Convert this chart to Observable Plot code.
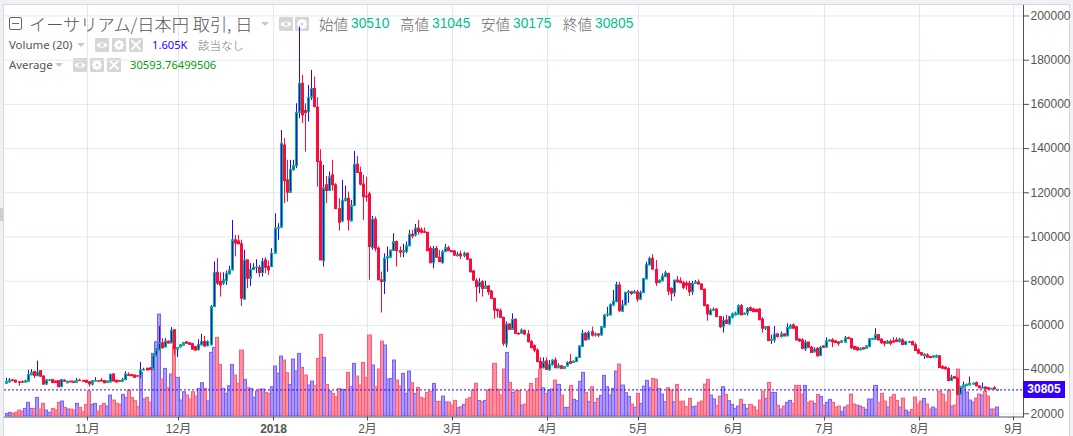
<!DOCTYPE html>
<html lang="ja"><head><meta charset="utf-8">
<script src="https://cdn.jsdelivr.net/npm/d3@7"></script>
<script src="https://cdn.jsdelivr.net/npm/@observablehq/plot@0.6"></script>
<style>
html,body{margin:0;padding:0;width:1073px;height:436px;overflow:hidden;background:#eff1f5;font-family:"Liberation Sans",Arial,sans-serif}
#panel{position:absolute;left:3px;top:4px;width:1067px;height:440px;background:#fff;border:1px solid #d4d8e0;box-sizing:border-box}
#chart{position:absolute;left:0;top:0}
.t{position:absolute;white-space:nowrap}
.box{position:absolute;background:#d6d6d6;border-radius:1px}
.box svg{display:block}
.tri{position:absolute;width:0;height:0;border-left:4px solid transparent;border-right:4px solid transparent;border-top:4px solid #c8c8c8}
</style></head><body>
<div id="panel"></div>
<div id="under"></div>
<div id="chart"></div>
<div id="legend"></div>
<script>
// Daily candles open at midnight Japan time (15:00 UTC of the day before).
const startDate = "2017-10-05T15:00:00Z";
const opens = [
33.6,34.2,35.1,35.0,34.2,34.3,34.1,34.4,37.4,38.9,
37.0,39.3,36.9,33.3,34.9,35.3,34.6,34.8,32.0,35.0,
33.8,34.5,34.5,34.0,35.0,34.9,34.9,34.3,33.2,34.6,
34.7,34.9,34.8,33.9,34.2,37.8,35.0,34.8,34.5,35.2,
37.5,37.5,37.3,37.0,36.8,39.6,40.4,40.5,40.0,46.0,
48.6,51.9,50.0,52.6,51.8,57.8,49.0,50.0,50.8,52.3,
51.9,51.5,50.2,48.8,51.0,52.5,50.5,51.0,68.3,83.8,
79.6,78.9,80.0,83.0,84.9,98.5,98.0,96.7,71.6,89.4,
81.0,85.0,86.0,86.0,83.7,89.4,86.4,86.4,92.4,103.8,
104.2,141.4,125.6,120.0,130.2,132.0,156.2,169.3,157.0,156.5,
163.0,167.0,158.5,133.9,89.0,123.4,120.8,127.9,123.4,112.6,
107.0,116.3,117.3,107.0,114.0,132.7,129.0,123.7,118.3,119.3,
95.0,107.8,94.7,80.4,79.6,90.2,90.6,93.6,97.7,93.6,
92.9,93.2,95.8,101.0,100.7,103.8,103.0,102.2,101.9,94.6,
88.1,94.6,90.6,88.1,93.1,94.9,93.6,93.4,91.3,92.1,
91.3,92.4,89.7,84.4,80.0,77.3,79.5,76.5,77.6,75.3,
72.0,67.0,66.4,63.4,51.3,60.4,58.0,62.5,56.2,56.2,
57.4,55.9,52.4,50.6,48.6,43.4,40.6,43.7,39.6,42.0,
44.1,40.6,41.5,40.4,41.4,43.4,43.0,43.4,45.2,50.2,
56.2,53.5,56.9,55.4,55.9,55.4,58.9,64.5,64.5,69.0,
70.5,78.0,66.1,69.0,74.6,75.0,74.4,74.9,71.6,74.6,
80.8,87.1,90.1,85.1,79.1,79.9,81.8,83.3,76.5,74.6,
80.3,79.9,79.1,78.8,78.8,75.0,78.8,79.4,78.5,76.1,
69.0,64.6,66.6,67.2,63.8,59.2,62.2,60.4,63.5,64.5,
64.8,68.7,64.8,65.3,67.8,67.2,67.0,67.2,62.6,58.5,
59.2,52.9,53.2,55.9,54.7,55.9,55.0,58.5,60.0,59.2,
53.5,53.2,49.1,52.2,49.9,47.8,49.4,46.1,50.5,49.9,
52.7,53.2,52.8,52.3,52.0,52.2,54.2,53.8,50.2,49.9,
48.7,49.7,49.4,50.2,53.5,53.5,55.6,53.5,52.5,51.7,
52.5,52.8,53.2,52.5,53.2,51.1,52.1,52.5,51.0,48.7,
47.5,46.1,46.4,45.7,45.4,45.4,46.0,41.1,40.9,40.2,
34.8,36.6,35.9,28.6,32.0,32.5,32.8,33.2,33.9,32.4,
31.4,31.9,31.6,31.0,31.5,30.51];
const closes = [
34.4,35.1,34.9,34.1,34.0,34.1,34.7,37.6,38.4,37.1,
38.6,36.8,33.2,35.1,35.0,33.9,33.9,32.0,35.3,34.5,
34.5,34.2,34.0,35.0,34.8,34.5,34.0,33.3,34.8,34.8,
34.5,34.6,33.8,34.6,37.6,34.6,34.2,34.5,35.2,37.8,
37.2,37.0,36.3,36.8,39.7,39.9,39.6,39.8,46.4,48.8,
51.8,49.6,52.7,51.8,57.6,49.3,49.8,51.0,52.0,51.7,
51.2,49.0,48.6,51.2,52.5,50.5,52.5,68.3,83.8,78.9,
78.0,80.4,83.4,84.9,98.5,97.0,96.7,72.1,89.4,81.1,
85.2,86.1,86.2,83.7,88.7,86.1,84.9,92.4,103.8,104.2,
142.2,125.3,120.0,130.4,132.1,156.2,169.3,155.0,156.1,163.0,
167.0,158.8,133.9,89.4,122.0,120.8,127.0,123.4,112.6,106.5,
116.3,117.3,107.5,114.0,132.7,129.0,123.7,118.0,118.0,95.5,
107.8,94.7,80.4,79.6,90.2,90.9,93.9,97.7,93.6,92.9,
93.6,95.9,101.0,100.3,103.8,102.2,101.9,101.9,93.6,88.1,
94.6,90.6,88.6,93.1,94.9,93.6,93.1,91.6,91.9,91.2,
92.4,89.7,84.1,80.3,77.3,79.3,76.5,77.6,75.0,72.0,
66.7,66.4,63.4,51.7,60.4,58.0,62.5,56.2,55.9,57.7,
55.9,52.4,49.7,48.6,43.4,40.6,43.4,39.9,42.3,44.1,
40.6,41.5,40.3,41.1,43.0,42.6,43.6,45.3,50.5,56.2,
53.2,56.6,55.4,55.9,55.4,59.2,64.5,64.9,69.3,70.8,
78.3,66.4,69.1,74.7,75.0,74.3,75.0,71.7,74.7,81.0,
87.4,90.1,85.3,79.1,80.2,82.1,83.6,75.3,74.3,80.3,
79.5,79.1,77.0,78.0,75.0,78.8,79.4,78.5,76.1,68.7,
65.0,66.7,67.0,63.8,59.2,62.0,60.7,63.8,65.0,65.3,
68.7,64.5,65.3,67.5,66.5,66.0,66.0,62.3,58.5,59.2,
52.9,53.6,55.9,54.7,55.9,55.0,58.9,59.7,58.5,53.2,
52.8,49.4,52.2,49.9,47.5,49.0,46.0,49.9,49.9,52.8,
53.2,52.3,52.0,51.7,52.8,54.2,53.8,49.7,49.0,48.7,
49.4,49.1,50.5,53.7,53.9,55.6,53.2,52.0,51.7,52.5,
51.7,52.2,52.5,53.5,51.1,52.5,52.3,51.0,48.4,47.2,
46.4,46.7,45.4,45.2,46.0,46.0,40.7,40.4,40.1,34.8,
36.3,35.9,28.6,32.1,32.8,33.1,33.6,33.6,32.4,31.5,
31.8,31.2,31.0,31.3,31.0,30.805];
const highs = [
36.0,36.0,35.6,35.2,34.6,34.9,35.2,39.6,40.0,39.2,
43.8,39.6,37.0,35.6,35.5,35.5,34.8,35.0,35.5,35.4,
34.8,34.8,34.7,36.0,35.7,35.1,35.3,34.5,35.0,36.3,
35.0,36.0,35.0,34.9,38.0,38.1,35.2,35.0,36.0,39.0,
38.6,37.8,37.5,37.2,43.2,40.6,40.6,40.9,46.7,49.5,
59.5,54.0,54.0,53.0,59.0,58.0,50.0,51.4,52.3,52.6,
52.2,51.7,50.4,53.5,56.0,55.0,53.0,69.0,88.7,90.2,
83.8,83.8,84.6,86.7,107.5,100.7,100.7,98.5,94.0,89.5,
87.9,87.9,89.7,87.2,90.2,90.6,89.1,94.7,110.5,106.0,
148.2,144.5,134.7,134.7,134.7,160.3,195.0,173.1,160.3,168.6,
175.4,172.4,163.0,139.5,132.4,127.4,129.4,134.7,124.1,117.3,
125.6,123.0,120.3,116.6,138.7,136.5,131.6,127.9,127.1,120.3,
109.3,109.0,95.5,84.1,92.4,95.5,93.9,101.5,98.2,95.5,
96.7,97.7,103.0,103.0,105.7,107.5,104.1,104.1,102.0,95.7,
95.7,95.7,93.9,93.9,96.6,95.8,93.9,93.9,93.1,93.6,
93.1,92.8,90.1,84.8,81.1,81.1,80.3,80.0,78.0,75.8,
72.3,67.5,67.5,63.7,61.5,60.7,65.2,63.0,56.6,58.4,
58.0,57.7,53.2,51.2,49.4,45.3,45.3,45.3,44.1,44.4,
45.3,42.6,41.7,41.4,43.5,46.8,43.9,45.6,50.8,57.7,
56.9,57.4,59.2,56.5,56.2,59.5,64.8,68.2,69.7,75.8,
79.5,79.5,71.3,75.0,75.8,75.2,75.8,75.8,75.5,81.2,
88.6,90.9,92.0,89.4,80.6,83.3,84.5,83.6,77.0,80.3,
82.1,81.5,79.9,79.9,79.9,79.9,80.3,80.6,78.7,76.5,
69.4,67.5,67.9,67.5,64.0,63.8,64.5,64.1,65.6,66.0,
69.3,69.5,65.6,68.0,68.3,67.8,67.3,67.5,63.5,59.5,
59.5,55.5,59.5,56.2,57.0,56.2,60.7,60.4,60.7,59.5,
54.0,54.0,53.2,52.4,50.5,49.9,49.9,50.5,50.7,54.4,
53.5,54.0,53.0,52.5,53.0,55.0,54.7,54.0,50.6,50.1,
49.8,50.0,50.9,54.1,54.1,58.5,55.8,54.0,52.7,53.2,
53.5,54.4,54.4,54.1,54.0,52.8,52.8,52.8,52.0,49.4,
47.8,47.2,47.2,45.9,46.2,46.6,46.4,41.8,41.1,40.8,
37.4,36.9,36.1,32.4,34.4,33.5,36.6,33.9,34.4,32.6,
33.9,32.1,31.8,31.5,32.4,31.045];
const lows = [
33.4,33.8,34.4,34.0,32.5,33.8,33.9,34.2,37.2,35.9,
36.8,36.4,33.1,32.8,34.6,33.7,33.7,31.9,31.9,34.3,
33.6,34.0,33.9,33.9,34.6,34.3,33.9,32.1,32.6,34.4,
34.4,34.4,33.6,33.7,34.0,34.4,33.8,34.3,34.3,35.0,
37.0,36.8,36.0,36.6,35.9,39.4,39.4,39.6,39.5,45.8,
48.4,49.4,49.8,51.6,51.6,46.5,45.5,49.8,50.6,51.5,
51.0,48.8,48.4,48.4,50.6,50.0,50.3,50.7,68.2,78.1,
72.8,78.1,78.1,83.0,84.6,91.0,96.6,68.6,71.5,76.6,
77.7,84.9,83.4,81.6,81.9,83.4,82.6,86.1,92.4,98.5,
103.8,115.1,115.8,120.0,129.8,130.9,153.5,151.3,138.4,152.0,
161.8,158.5,122.6,89.4,86.4,115.1,120.8,120.8,112.6,102.7,
106.5,115.8,102.7,106.8,114.0,129.0,123.1,107.5,115.8,80.4,
94.0,93.2,80.4,65.6,74.0,84.1,90.2,93.9,86.4,90.6,
90.6,92.4,95.5,99.2,100.0,100.8,101.4,101.7,93.6,88.1,
85.6,90.6,88.6,87.8,93.1,93.6,93.1,91.2,91.0,89.8,
90.6,89.7,83.6,80.0,70.5,74.3,72.8,76.5,73.5,72.0,
62.7,63.4,63.4,50.5,49.8,57.7,57.7,56.2,55.5,55.9,
55.4,52.0,49.4,47.6,43.1,40.0,40.3,39.6,39.3,41.6,
40.6,40.4,40.2,40.2,41.2,42.4,42.8,43.2,45.0,50.0,
52.9,53.2,54.7,54.7,54.4,55.2,58.7,63.7,64.2,68.5,
70.2,66.0,66.0,69.4,70.0,73.5,74.2,70.5,71.4,74.4,
80.6,86.9,84.8,77.6,78.9,79.7,81.6,73.5,70.8,72.8,
79.1,78.9,76.1,75.8,73.1,73.5,78.6,78.3,75.9,68.5,
61.9,64.4,66.4,63.5,58.5,56.5,60.4,60.1,62.9,64.2,
64.6,64.5,64.6,64.2,66.2,65.8,65.8,62.3,56.5,57.7,
52.7,51.4,52.0,54.4,54.3,54.8,55.0,58.3,58.3,52.9,
52.3,49.0,48.2,49.7,47.5,47.5,45.7,46.0,49.7,49.7,
52.5,49.9,51.8,50.5,51.8,52.0,53.6,49.1,48.8,48.2,
48.5,48.9,49.2,49.9,53.3,53.3,53.0,51.4,50.2,51.5,
50.8,52.0,52.3,52.0,51.0,50.9,51.9,50.8,48.2,47.0,
46.2,44.6,45.2,45.0,45.2,45.2,40.5,40.2,39.9,34.6,
34.6,35.7,28.4,28.4,31.8,32.3,32.6,33.0,32.2,31.3,
31.2,29.8,30.8,30.8,30.8,30.175];
// Volume read as bar height in steps of one unit (61.7 ETH); the last bar is 1.605K.
const volumeSteps = [
7,10,7,10,17,14,22,40,22,22,
55,20,37,17,10,22,17,40,44,25,
20,20,17,37,25,12,34,74,34,37,
14,30,37,29,62,47,37,34,64,55,
77,55,45,27,130,50,55,40,187,222,
305,110,142,84,125,212,115,47,72,62,
50,72,59,82,99,82,44,190,205,235,
154,82,67,90,154,122,97,197,109,84,
82,55,74,80,80,70,67,87,149,127,
179,167,129,94,170,134,187,145,122,92,
104,90,172,244,175,94,74,67,57,82,
79,79,130,87,157,119,92,160,115,242,
152,87,140,224,212,110,112,167,107,89,
127,67,134,99,67,85,55,52,70,74,
97,43,43,59,41,41,32,46,24,27,
34,50,54,77,97,46,42,46,77,80,
157,80,62,140,190,100,70,75,76,32,
35,74,97,75,112,140,84,67,77,80,
107,94,62,25,25,91,49,45,103,130,
70,43,87,40,52,61,121,87,62,82,
134,155,92,69,58,35,25,67,37,89,
106,84,112,109,82,65,42,84,77,42,
94,42,44,27,52,27,29,40,44,95,
109,62,50,30,59,87,64,45,34,22,
29,49,34,22,34,27,17,47,74,52,
100,70,70,31,20,29,40,46,37,91,
91,64,91,40,44,37,64,58,32,40,
49,40,26,29,12,26,32,65,35,32,
29,25,19,50,50,91,39,67,44,26,
56,64,46,26,53,17,11,19,56,35,
44,52,35,20,26,20,74,65,41,77,
29,32,140,87,89,71,47,41,53,65,
62,74,59,20,20,26];
const priceTicks = [20000,40000,60000,80000,100000,120000,140000,160000,180000,200000];
const monthTicks = ["2017-11-01","2017-12-01","2018-01-01","2018-02-01","2018-03-01","2018-04-01","2018-05-01","2018-06-01","2018-07-01","2018-08-01","2018-09-01"];
const monthLabels = ["11月","12月","2018","2月","3月","4月","5月","6月","7月","8月","9月"];
const lastClose = 30805;

const BLUE="#3300ff",TEAL="#00b88c",RED="#ff0a3c",GRID="#deeaf2",AXIS="#4c525e",LABEL="#555";
const volumeBase=18900, volumePriceUnit=150.8;
const t0=new Date(startDate);
const DAY=864e5;
if(![opens,closes,highs,lows,volumeSteps].every(a=>a.length===326)) throw new Error("len "+[opens,closes,highs,lows,volumeSteps].map(a=>a.length));
const rows=opens.map((o,i)=>({date:new Date(+t0+i*DAY),i,open:o*1000,close:closes[i]*1000,high:highs[i]*1000,low:lows[i]*1000,up:closes[i]>=o,vol:volumeSteps[i]}));
const tickDates=monthTicks.map(s=>new Date(s+"T00:00:00Z"));
const plainIdx=monthLabels.map((l,i)=>i).filter(i=>monthLabels[i]!=="2018");
const boldIdx=monthLabels.map((l,i)=>i).filter(i=>monthLabels[i]==="2018");
const nov1=tickDates[0];
const pxPerDay=3.048;
const xDomain=[new Date(+nov1+((4-86.7)/pxPerDay)*DAY),new Date(+nov1+((1023-86.7)/pxPerDay)*DAY)];
const labelOf=d=>monthLabels[tickDates.findIndex(t=>+t===+d)];
const font='"Liberation Sans","Noto Sans CJK JP",sans-serif';

const plot=Plot.plot({
  width:1073,height:436,
  marginLeft:4,marginRight:50,marginTop:5,marginBottom:19.5,
  style:{background:"transparent",fontFamily:font},
  x:{type:"utc",domain:xDomain,range:[4,1023],round:true},
  y:{type:"linear",domain:[18550,204750],range:[416.5,5]},
  marks:[
    Plot.gridY(priceTicks,{stroke:GRID,strokeOpacity:1,strokeWidth:1}),
    Plot.gridX(tickDates,{stroke:GRID,strokeOpacity:1,strokeWidth:1}),
    Plot.rect(rows,{
      x1:d=>new Date(+d.date-DAY/2),x2:d=>new Date(+d.date+DAY/2),
      y1:()=>volumeBase,y2:d=>volumeBase+d.vol*volumePriceUnit,
      fill:d=>d.up?"rgba(70,30,255,.45)":"rgba(255,20,50,.47)",
      stroke:d=>d.up?"#7a5cff":"#ff5a76",strokeWidth:1,dx:.5
    }),
    Plot.ruleY([lastClose],{stroke:BLUE,strokeDasharray:"2,2",strokeWidth:1}),
    Plot.ruleX(rows,{x:"date",y1:"low",y2:"high",stroke:d=>d.up?BLUE:RED,strokeWidth:1}),
    Plot.rect(rows,{x1:"date",x2:"date",y1:"open",y2:"close",insetLeft:-1,insetRight:-1,dx:.5,
      fill:d=>d.up?BLUE:RED,stroke:d=>d.up?TEAL:RED,strokeWidth:1}),
    Plot.axisY(priceTicks,{anchor:"right",tickSize:5,tickPadding:2,label:null,tickFormat:d=>String(d),fontSize:12,fill:LABEL,stroke:AXIS}),
    Plot.axisX(plainIdx.map(i=>tickDates[i]),{anchor:"bottom",tickSize:4,tickPadding:3,label:null,tickFormat:labelOf,fontSize:12,fill:LABEL,stroke:AXIS}),
    Plot.axisX(boldIdx.map(i=>tickDates[i]),{anchor:"bottom",tickSize:4,tickPadding:3,label:null,tickFormat:labelOf,fontSize:12,fontWeight:"bold",fill:LABEL,stroke:AXIS}),
    Plot.frame({anchor:"right",stroke:AXIS}),
    Plot.frame({anchor:"bottom",stroke:AXIS})
  ]
});
document.getElementById("chart").append(plot);

// last-price tag, positioned through the chart's own y scale
const legend=document.getElementById("legend");
const under=document.getElementById("under");
const tagY=plot.scale("y").apply(lastClose);
function el(cls,style,text,parent){const e=document.createElement("div");e.className=cls;e.style.cssText=style;if(text!=null)e.textContent=text;(parent||legend).append(e);return e;}
el("t",`left:1023px;top:${tagY-8.5}px;width:42px;height:17px;line-height:17px;background:${BLUE};color:#fff;font-weight:bold;font-size:12px;text-align:center`,String(lastClose));

const ICON={
 eye:'<svg width="14" height="14" viewBox="0 0 14 14"><path d="M1.5 7C3.5 3.5 10.5 3.5 12.5 7C10.5 10.5 3.5 10.5 1.5 7Z" fill="#fff"/><circle cx="7" cy="7" r="2" fill="#d6d6d6"/></svg>',
 gear:'<svg width="14" height="14" viewBox="0 0 14 14"><circle cx="7" cy="7" r="3.2" fill="none" stroke="#fff" stroke-width="2.4"/><path d="M7 1.8V12.2M1.8 7H12.2M3.3 3.3L10.7 10.7M10.7 3.3L3.3 10.7" stroke="#fff" stroke-width="1.5"/><circle cx="7" cy="7" r="1.5" fill="#d6d6d6"/></svg>',
 x:'<svg width="14" height="14" viewBox="0 0 14 14"><path d="M2.5 2.5L11.5 11.5M11.5 2.5L2.5 11.5" stroke="#fff" stroke-width="1.8"/></svg>'
};
function box(x,y,k){el("box",`left:${x}px;top:${y}px;width:14px;height:14px`,null,under).innerHTML=ICON[k];}
const JP='"Noto Sans CJK JP","Liberation Sans",sans-serif';
// row 1
el("","position:absolute;left:9px;top:17px;width:11px;height:11px;border:1px solid #666;border-radius:2px;box-sizing:content-box");
el("","position:absolute;left:12px;top:23px;width:7px;height:1px;background:#666");
el("t",`left:29px;top:12px;font:300 17.2px/24px ${JP};color:#555`,"イーサリアム/日本円 取引, 日");
el("tri","left:261px;top:22px");
box(279,17,"eye");box(295,17,"gear");
[["始値","30510",319,351],["高値","31045",400,432],["安値","30175",481,513],["終値","30805",563,595]].forEach(([a,b,x1,x2])=>{
  el("t",`left:${x1}px;top:14px;font:300 14.5px/20px ${JP};color:#666`,a);
  el("t",`left:${x2}px;top:14px;font:400 13.8px/20px "Liberation Sans",sans-serif;color:#00c08c`,b);
});
// row 2
el("t",`left:9px;top:37px;font:400 11.4px/16px "Noto Sans",sans-serif;color:#555`,"Volume (20)");
el("tri","left:77px;top:43px");
box(95,38,"eye");box(112,38,"gear");box(129,38,"x");
el("t",`left:152px;top:37px;font:400 11.2px/16px "Noto Sans",sans-serif;color:${BLUE}`,"1.605K");
el("t",`left:198px;top:37px;font:300 11.5px/16px ${JP};color:#777`,"該当なし");
// row 3
el("t",`left:9px;top:57px;font:400 11.4px/16px "Noto Sans",sans-serif;color:#555`,"Average");
el("tri","left:55px;top:63px");
box(73,58,"eye");box(90,58,"gear");box(107,58,"x");
el("t",`left:130px;top:57px;font:400 11.2px/16px "Noto Sans",sans-serif;color:#0a9a0a`,"30593.76499506");
// left handle
el("","position:absolute;left:0;top:208px;width:3px;height:13px;background:#cfcfcf");
</script>
</body></html>
